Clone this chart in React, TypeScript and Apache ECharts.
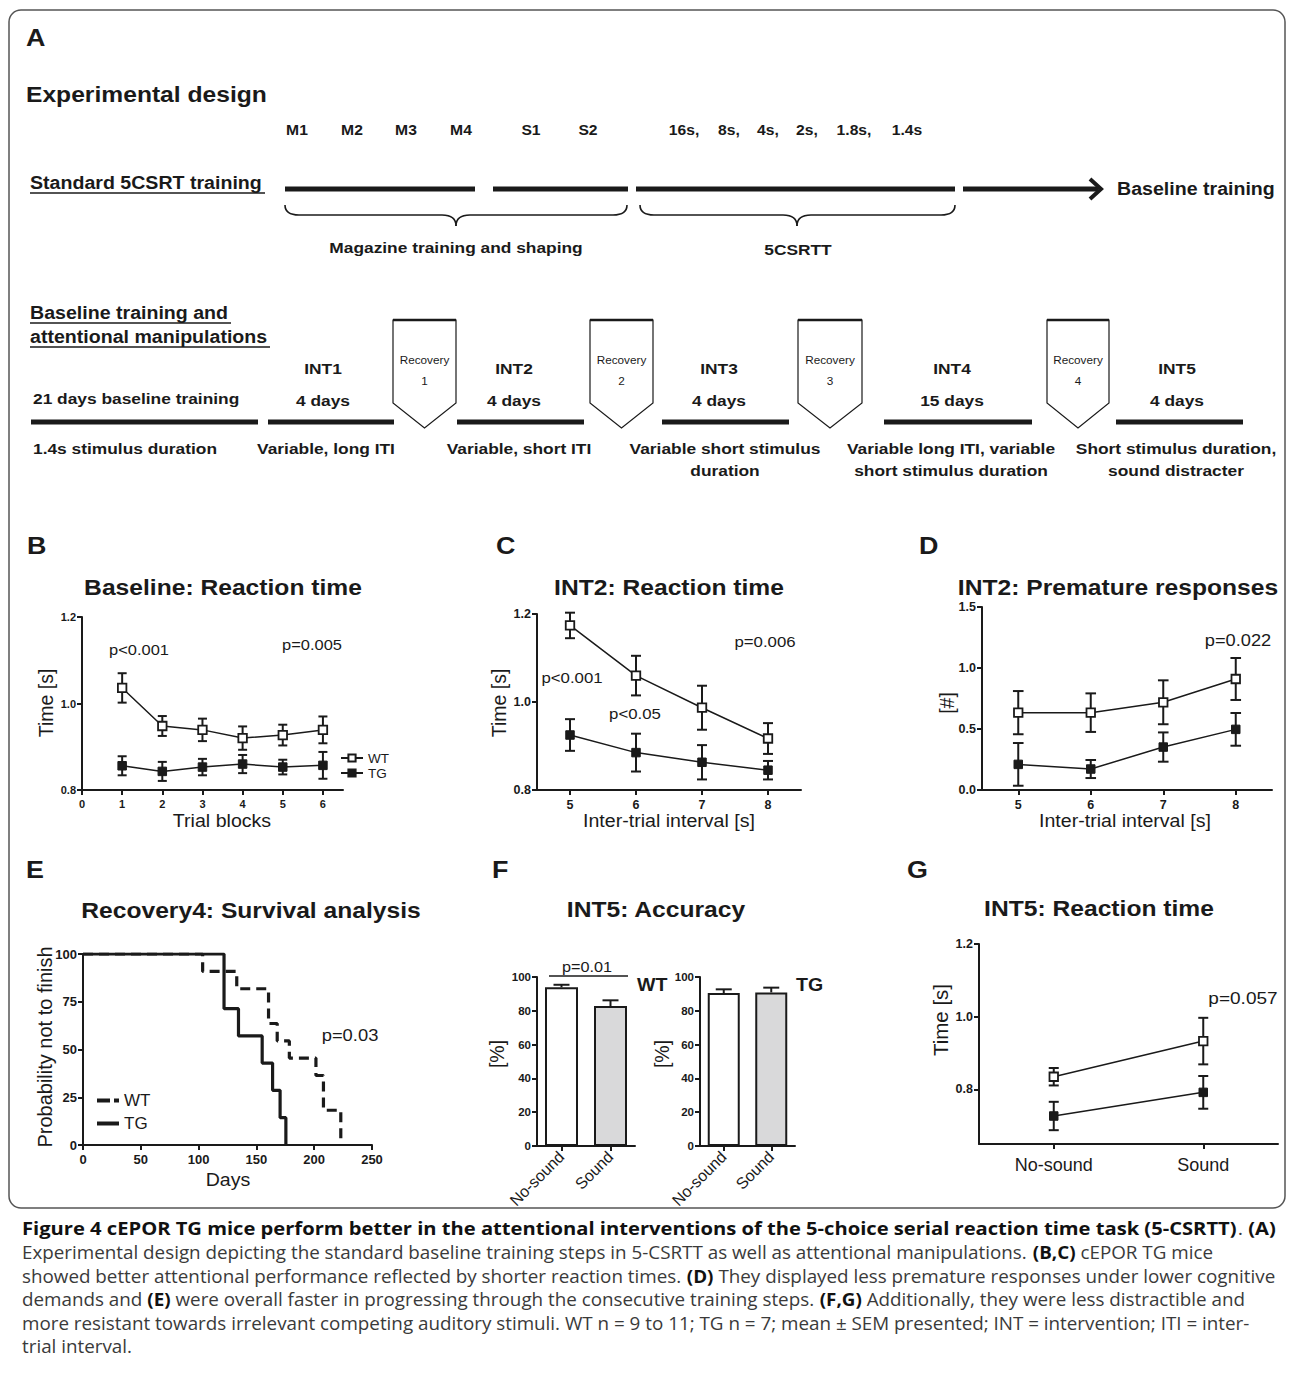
import React, { useEffect, useRef } from 'react';
import * as echarts from 'echarts';

const INK = '#1a1a1a';
const FONT = "'Liberation Sans', Arial, sans-serif";
const CAPFONT = "'Open Sans', sans-serif";
const SX = 1.12;

// ---------- B: Baseline reaction time ----------
const blocks = [1, 2, 3, 4, 5, 6];
const bWT = [1.036, 0.948, 0.939, 0.92, 0.927, 0.939];
const bWTsem = [0.034, 0.023, 0.026, 0.027, 0.024, 0.031];
const bTG = [0.856, 0.843, 0.853, 0.86, 0.853, 0.857];
const bTGsem = [0.022, 0.022, 0.019, 0.021, 0.017, 0.031];
const bXTicks = [0, 1, 2, 3, 4, 5, 6];
const bYTicks = [0.8, 1.0, 1.2];

// ---------- C: INT2 reaction time ----------
const iti = [5, 6, 7, 8];
const cWT = [1.174, 1.06, 0.987, 0.917];
const cWTsem = [0.029, 0.045, 0.05, 0.035];
const cTG = [0.925, 0.885, 0.863, 0.845];
const cTGsem = [0.036, 0.043, 0.039, 0.021];
const itiTicks = [5, 6, 7, 8];
const cYTicks = [0.8, 1.0, 1.2];

// ---------- D: INT2 premature responses ----------
const dWT = [0.634, 0.634, 0.719, 0.91];
const dWTsem = [0.177, 0.158, 0.18, 0.172];
const dTG = [0.21, 0.172, 0.352, 0.497];
const dTGsem = [0.175, 0.074, 0.12, 0.134];
const dYTicks = [0, 0.5, 1.0, 1.5];

// ---------- E: Recovery4 survival ----------
const wtDays = [0, 103.5, 133, 160.5, 168, 178.5, 201.5, 208, 223];
const wtSurv = [100, 90.9, 81.8, 63.6, 54.5, 45.5, 36.4, 18.2, 0];
const tgDays = [0, 122, 134.5, 155, 164, 170.5, 175.5];
const tgSurv = [100, 71.4, 57.1, 42.9, 28.6, 14.3, 0];
const eXTicks = [0, 50, 100, 150, 200, 250];
const eYTicks = [0, 25, 50, 75, 100];

// ---------- F: INT5 accuracy ----------
const soundCats = ['No-sound', 'Sound'];
const fWT = [93.9, 82.8];
const fWTsem = [1.5, 3.4];
const fTG = [90.5, 90.9];
const fTGsem = [2.2, 2.8];
const fYTicks = [0, 20, 40, 60, 80, 100];

// ---------- G: INT5 reaction time ----------
const gWT = [0.835, 0.933];
const gWTsem = [0.024, 0.064];
const gTG = [0.727, 0.792];
const gTGsem = [0.039, 0.045];
const gYTicks = [0.8, 1.0, 1.2];

// ---------- A: design diagram texts ----------
const stepLabels = ['M1', 'M2', 'M3', 'M4', 'S1', 'S2', '16s,', '8s,', '4s,', '2s,', '1.8s,', '1.4s'];
const interventions = ['INT1', 'INT2', 'INT3', 'INT4', 'INT5'];
const interventionDays = ['4 days', '4 days', '4 days', '15 days', '4 days'];
const recoveries = ['1', '2', '3', '4'];
const phaseDescriptions = [
  ['1.4s stimulus duration'],
  ['Variable, long ITI'],
  ['Variable, short ITI'],
  ['Variable short stimulus', 'duration'],
  ['Variable long ITI, variable', 'short stimulus duration'],
  ['Short stimulus duration,', 'sound distracter'],
];

// ---------- caption ----------
const captionLines = [
  '{b|Figure 4 cEPOR TG mice perform better in the attentional interventions of the 5-choice serial reaction time task (5-CSRTT)}. {b|(A)}',
  'Experimental design depicting the standard baseline training steps in 5-CSRTT as well as attentional manipulations. {b|(B,C)} cEPOR TG mice',
  'showed better attentional performance reflected by shorter reaction times. {b|(D)} They displayed less premature responses under lower cognitive',
  'demands and {b|(E)} were overall faster in progressing through the consecutive training steps. {b|(F,G)} Additionally, they were less distractible and',
  'more resistant towards irrelevant competing auditory stimuli. WT n = 9 to 11; TG n = 7; mean ± SEM presented; INT = intervention; ITI = inter-',
  'trial interval.',
];
const captionStretch = [1.152, 1.076, 1.076, 1.076, 1.076, 1.076];

const zip = (xs: number[], ys: number[]) => xs.map((x, i) => [x, ys[i]]);
const zip3 = (xs: number[], ys: number[], es: number[]) => xs.map((x, i) => [x, ys[i], es[i]]);
const idx2 = [0, 1];

function valAxis(gi: number, min: number, max: number, ticks: number[], fs: number, margin: number, fmt?: any) {
  const lab: any = { show: true, color: INK, fontSize: fs, fontWeight: 'bold', fontFamily: FONT, margin, customValues: ticks };
  if (fmt) lab.formatter = fmt;
  return {
    type: 'value', gridIndex: gi, min, max,
    axisLine: { show: true, onZero: false, lineStyle: { color: INK, width: 2 } },
    axisTick: { show: true, length: 5, lineStyle: { color: INK, width: 2 }, customValues: ticks },
    axisLabel: lab,
    splitLine: { show: false },
  };
}
function catAxis(gi: number, cats: string[], fs: number, margin: number, rotate: number) {
  return {
    type: 'category', gridIndex: gi, data: cats, boundaryGap: true,
    axisLine: { show: true, onZero: false, lineStyle: { color: INK, width: 2 } },
    axisTick: { show: true, alignWithLabel: true, length: 5, lineStyle: { color: INK, width: 2 } },
    axisLabel: { show: true, color: INK, fontSize: fs, fontWeight: 'normal', fontFamily: FONT, margin, rotate, interval: 0 },
    splitLine: { show: false },
  };
}
const fmt1 = (v: number) => v.toFixed(1);

function errRender(capHalf: number, upOnly: boolean) {
  return (params: any, api: any) => {
    const x = api.value(0), y = api.value(1), e = api.value(2);
    const top = api.coord([x, y + e]);
    const bot = api.coord([x, upOnly ? y : y - e]);
    const style = { stroke: INK, lineWidth: 2 };
    const children: any[] = [
      { type: 'line', shape: { x1: top[0], y1: top[1], x2: bot[0], y2: bot[1] }, style },
      { type: 'line', shape: { x1: top[0] - capHalf, y1: top[1], x2: top[0] + capHalf, y2: top[1] }, style },
    ];
    if (!upOnly) children.push({ type: 'line', shape: { x1: bot[0] - capHalf, y1: bot[1], x2: bot[0] + capHalf, y2: bot[1] }, style });
    return { type: 'group', children };
  };
}
function errSeries(gi: number, data: any[], capHalf: number, upOnly = false) {
  return { type: 'custom', name: 'err' + gi, xAxisIndex: gi, yAxisIndex: gi, data, renderItem: errRender(capHalf, upOnly), z: upOnly ? 4 : 2, silent: true };
}
function ptSeries(name: string, gi: number, data: any[], open: boolean) {
  return {
    type: 'line', name, xAxisIndex: gi, yAxisIndex: gi, data, symbol: 'rect', symbolSize: 8.5,
    lineStyle: { color: INK, width: 1.5 },
    itemStyle: open ? { color: '#ffffff', borderColor: INK, borderWidth: 1.8 } : { color: INK, borderColor: INK, borderWidth: 1 },
    z: 3, silent: true,
  };
}

// ---------- graphic (diagram, titles, annotations) ----------
const GR: any[] = [];
function txt(text: string, x: number, y: number, size: number, o: any = {}) {
  GR.push({
    type: 'text', x, y, scaleX: o.rot ? 1 : (o.sx ?? SX), rotation: o.rot ?? 0, silent: true, z: 20,
    style: {
      text, fill: o.fill ?? INK, fontSize: size, fontWeight: o.bold ? 'bold' : 'normal', fontFamily: o.ff ?? FONT,
      textAlign: o.align ?? 'center', textVerticalAlign: 'middle', align: o.align ?? 'center', verticalAlign: 'middle',
      rich: o.rich,
    },
  });
}
function ln(x1: number, y1: number, x2: number, y2: number, w = 1.5) {
  GR.push({ type: 'line', silent: true, z: 20, shape: { x1, y1, x2, y2 }, style: { stroke: INK, lineWidth: w } });
}
function quad(x1: number, y1: number, cx: number, cy: number, x2: number, y2: number) {
  GR.push({ type: 'bezierCurve', silent: true, z: 20, shape: { x1, y1, x2, y2, cpx1: cx, cpy1: cy }, style: { stroke: INK, lineWidth: 1.6, fill: 'none' } });
}
function brace(xL: number, xR: number, xC: number, yTop: number, yMid: number, yTip: number) {
  const r = 14;
  quad(xL, yTop, xL, yMid, xL + r, yMid);
  ln(xL + r, yMid, xC - r, yMid, 1.6);
  quad(xC - r, yMid, xC, yMid, xC, yTip);
  quad(xC, yTip, xC, yMid, xC + r, yMid);
  ln(xC + r, yMid, xR - r, yMid, 1.6);
  quad(xR - r, yMid, xR, yMid, xR, yTop);
}

// frame
GR.push({ type: 'rect', silent: true, z: 1, shape: { x: 9, y: 10, width: 1276, height: 1198, r: 12 }, style: { fill: 'none', stroke: '#555', lineWidth: 1.5 } });

// Panel A
txt('A', 26, 38, 24, { bold: true, align: 'left' });
txt('Experimental design', 26, 94, 22, { bold: true, align: 'left' });
const stepX = [297, 352, 406, 461, 531, 588, 684, 729, 768, 807, 854, 907];
stepLabels.forEach((s, i) => txt(s, stepX[i], 130, 14, { bold: true }));
txt('Standard 5CSRT training', 30, 183, 17.5, { bold: true, align: 'left' });
ln(30, 193, 265, 193, 1.6);
ln(285, 189, 475, 189, 5);
ln(493, 189, 628, 189, 5);
ln(636, 189, 955, 189, 5);
ln(963, 189, 1098, 189, 5);
GR.push({ type: 'polyline', silent: true, z: 20, shape: { points: [[1090, 179], [1101, 189], [1090, 199]] }, style: { stroke: INK, lineWidth: 4, fill: 'none' } });
txt('Baseline training', 1117, 189, 17.5, { bold: true, align: 'left' });
brace(285, 627, 456, 205, 215, 226);
brace(640, 955, 797, 205, 215, 226);
txt('Magazine training and shaping', 456, 247, 15.5, { bold: true });
txt('5CSRTT', 798, 249, 15.5, { bold: true });

txt('Baseline training and', 30, 313, 17.5, { bold: true, align: 'left' });
ln(30, 323, 231, 323, 1.6);
txt('attentional manipulations', 30, 337, 17.5, { bold: true, align: 'left' });
ln(30, 347, 270, 347, 1.6);

txt('21 days baseline training', 33, 398, 15.5, { bold: true, align: 'left' });
const intX = [323, 514, 719, 952, 1177];
interventions.forEach((s, i) => {
  txt(s, intX[i], 368, 15.5, { bold: true });
  txt(interventionDays[i], intX[i], 400, 15.5, { bold: true });
});
const recX = [[393, 456], [590, 653], [798, 862], [1047, 1109]];
recoveries.forEach((s, i) => {
  const [x1, x2] = recX[i];
  const xc = (x1 + x2) / 2;
  GR.push({ type: 'polygon', silent: true, z: 20, shape: { points: [[x1, 320], [x2, 320], [x2, 403], [xc, 428], [x1, 403]] }, style: { fill: '#fff', stroke: INK, lineWidth: 1.2 } });
  ln(x1, 320, x2, 320, 2.5);
  txt('Recovery', xc, 360, 10.5, { bold: false });
  txt(s, xc, 381, 10.5, { bold: false });
});
const phaseLines = [[31, 258], [268, 394], [457, 584], [662, 789], [884, 1032], [1116, 1243]];
phaseLines.forEach(([a, b]) => ln(a, 422, b, 422, 5));
const descX = [33, 326, 519, 725, 951, 1176];
phaseDescriptions.forEach((lines, i) => {
  lines.forEach((s, j) => txt(s, descX[i], 448 + j * 22, 15.5, { bold: true, align: i === 0 ? 'left' : 'center' }));
});

// Panel letters and titles
txt('B', 27, 546, 24, { bold: true, align: 'left' });
txt('C', 496, 546, 24, { bold: true, align: 'left' });
txt('D', 919, 546, 24, { bold: true, align: 'left' });
txt('E', 26, 870, 24, { bold: true, align: 'left' });
txt('F', 492, 870, 24, { bold: true, align: 'left' });
txt('G', 907, 870, 24, { bold: true, align: 'left' });
txt('Baseline: Reaction time', 223, 587, 22, { bold: true });
txt('INT2: Reaction time', 669, 587, 22, { bold: true });
txt('INT2: Premature responses', 1118, 587, 22, { bold: true });
txt('Recovery4: Survival analysis', 251, 910, 22, { bold: true });
txt('INT5: Accuracy', 656, 909, 22, { bold: true });
txt('INT5: Reaction time', 1099, 908, 22, { bold: true });

// axis titles
const ROT = Math.PI / 2;
txt('Time [s]', 46, 703, 19.5, { rot: ROT });
txt('Trial blocks', 222, 821, 17.5);
txt('Time [s]', 499, 703, 19.5, { rot: ROT });
txt('Inter-trial interval [s]', 669, 821, 17.5);
txt('[#]', 947, 703, 19.5, { rot: ROT });
txt('Inter-trial interval [s]', 1125, 821, 17.5);
txt('Probability not to finish', 45, 1047, 20, { rot: ROT });
txt('Days', 228, 1180, 17.5);
txt('[%]', 497, 1054, 19.5, { rot: ROT });
txt('[%]', 662, 1054, 19.5, { rot: ROT });
txt('Time [s]', 940, 1020, 20.5, { rot: ROT });

// annotations
txt('p<0.001', 139, 650, 14.7);
txt('p=0.005', 312, 645, 14.7);
txt('p<0.001', 572, 678, 15);
txt('p<0.05', 635, 714, 15);
txt('p=0.006', 765, 642, 15);
txt('p=0.022', 1238, 640, 16.3);
txt('p=0.03', 350, 1035, 16.4);
txt('p=0.057', 1243, 998, 17);
txt('p=0.01', 587, 967, 14.5);
ln(549, 976, 628, 976, 1.5);
txt('WT', 637, 985, 17.5, { bold: true, align: 'left' });
txt('TG', 796, 985, 17.5, { bold: true, align: 'left' });

// caption
captionLines.forEach((s, i) => {
  GR.push({
    type: 'text', x: 22, y: 1229 + i * 23.5, scaleX: captionStretch[i], silent: true, z: 20,
    style: {
      text: s, fill: '#3a3a3a', fontSize: 17.5, fontFamily: CAPFONT, textAlign: 'left', textVerticalAlign: 'middle', align: 'left', verticalAlign: 'middle',
      rich: { b: { fontWeight: 'bold', fontSize: 17.5, fontFamily: CAPFONT, fill: '#111' } },
    },
  });
});

const legendText = { fontSize: 13.5, fontFamily: FONT, color: INK };
const legendTextE = { fontSize: 17, fontFamily: FONT, color: INK };
const splitName = (n: string) => n.split('_')[0];

const option: any = {
  animation: false,
  backgroundColor: '#ffffff',
  grid: [
    { left: 82, top: 617, width: 261, height: 173 },
    { left: 537, top: 614, width: 264, height: 176 },
    { left: 982, top: 607, width: 290, height: 183 },
    { left: 83, top: 954, width: 289, height: 191 },
    { left: 537, top: 977, width: 98, height: 169 },
    { left: 700, top: 977, width: 95, height: 169 },
    { left: 979, top: 944, width: 299, height: 200 },
  ],
  xAxis: [
    valAxis(0, 0, 6.5, bXTicks, 11, 8),
    valAxis(1, 4.5, 8.5, itiTicks, 12.5, 8),
    valAxis(2, 4.5, 8.5, itiTicks, 12.5, 8),
    valAxis(3, 0, 250, eXTicks, 13, 8),
    catAxis(4, soundCats, 16, 8, 45),
    catAxis(5, soundCats, 16, 8, 45),
    catAxis(6, soundCats, 18, 12, 0),
  ],
  yAxis: [
    valAxis(0, 0.8, 1.2, bYTicks, 11, 6, fmt1),
    valAxis(1, 0.8, 1.2, cYTicks, 12.5, 6, fmt1),
    valAxis(2, 0, 1.5, dYTicks, 12.5, 6, fmt1),
    valAxis(3, 0, 100, eYTicks, 13, 6),
    valAxis(4, 0, 100, fYTicks, 11.5, 6),
    valAxis(5, 0, 100, fYTicks, 11.5, 6),
    valAxis(6, 0.65, 1.2, gYTicks, 12.5, 6, fmt1),
  ],
  legend: [
    { data: ['WT'], left: 340, top: 751, padding: 0, itemWidth: 22, itemHeight: 9, selectedMode: false, textStyle: legendText },
    { data: ['TG'], left: 340, top: 766, padding: 0, itemWidth: 22, itemHeight: 9, selectedMode: false, textStyle: legendText },
    { data: [{ name: 'WT_s', icon: 'path://M0,0h13v4h-13z M17,0h5v4h-5z' }], left: 97, top: 1092, padding: 0, itemWidth: 22, itemHeight: 4, selectedMode: false, textStyle: legendTextE, formatter: splitName },
    { data: [{ name: 'TG_s', icon: 'rect' }], left: 97, top: 1115, padding: 0, itemWidth: 22, itemHeight: 4, selectedMode: false, textStyle: legendTextE, formatter: splitName },
  ],
  series: [
    // B
    ptSeries('WT', 0, zip(blocks, bWT), true),
    ptSeries('TG', 0, zip(blocks, bTG), false),
    errSeries(0, zip3(blocks, bWT, bWTsem), 4.5),
    errSeries(0, zip3(blocks, bTG, bTGsem), 4.5),
    // C
    ptSeries('WT', 1, zip(iti, cWT), true),
    ptSeries('TG', 1, zip(iti, cTG), false),
    errSeries(1, zip3(iti, cWT, cWTsem), 5),
    errSeries(1, zip3(iti, cTG, cTGsem), 5),
    // D
    ptSeries('WT', 2, zip(iti, dWT), true),
    ptSeries('TG', 2, zip(iti, dTG), false),
    errSeries(2, zip3(iti, dWT, dWTsem), 5.3),
    errSeries(2, zip3(iti, dTG, dTGsem), 5.3),
    // E
    {
      type: 'line', name: 'WT_s', xAxisIndex: 3, yAxisIndex: 3, data: zip(wtDays, wtSurv), step: 'end', symbol: 'none',
      lineStyle: { color: INK, width: 3.2, type: [10, 6] }, itemStyle: { color: INK }, z: 3, silent: true,
    },
    {
      type: 'line', name: 'TG_s', xAxisIndex: 3, yAxisIndex: 3, data: zip(tgDays, tgSurv), step: 'end', symbol: 'none',
      lineStyle: { color: INK, width: 3.2 }, itemStyle: { color: INK }, z: 4, silent: true,
    },
    // F
    {
      type: 'bar', name: 'accWT', xAxisIndex: 4, yAxisIndex: 4, barWidth: 33, silent: true, z: 2,
      data: fWT.map((v, i) => ({ value: v, itemStyle: { color: i === 0 ? '#ffffff' : '#d9d9da' } })),
      itemStyle: { borderColor: INK, borderWidth: 2 },
    },
    errSeries(4, zip3(idx2, fWT, fWTsem), 8, true),
    {
      type: 'bar', name: 'accTG', xAxisIndex: 5, yAxisIndex: 5, barWidth: 32, silent: true, z: 2,
      data: fTG.map((v, i) => ({ value: v, itemStyle: { color: i === 0 ? '#ffffff' : '#d9d9da' } })),
      itemStyle: { borderColor: INK, borderWidth: 2 },
    },
    errSeries(5, zip3(idx2, fTG, fTGsem), 8, true),
    // G
    ptSeries('WT', 6, gWT, true),
    ptSeries('TG', 6, gTG, false),
    errSeries(6, zip3(idx2, gWT, gWTsem), 5),
    errSeries(6, zip3(idx2, gTG, gTGsem), 5),
  ],
  graphic: { elements: GR },
};

export default function App() {
  const ref = useRef<HTMLDivElement>(null);
  useEffect(() => {
    const chart = echarts.init(ref.current as HTMLDivElement, null, { renderer: 'svg' });
    chart.setOption(option);
    return () => chart.dispose();
  }, []);
  return <div ref={ref} style={{ position: 'absolute', left: 0, top: 0, width: 1293, height: 1395, background: '#fff' }} />;
}
